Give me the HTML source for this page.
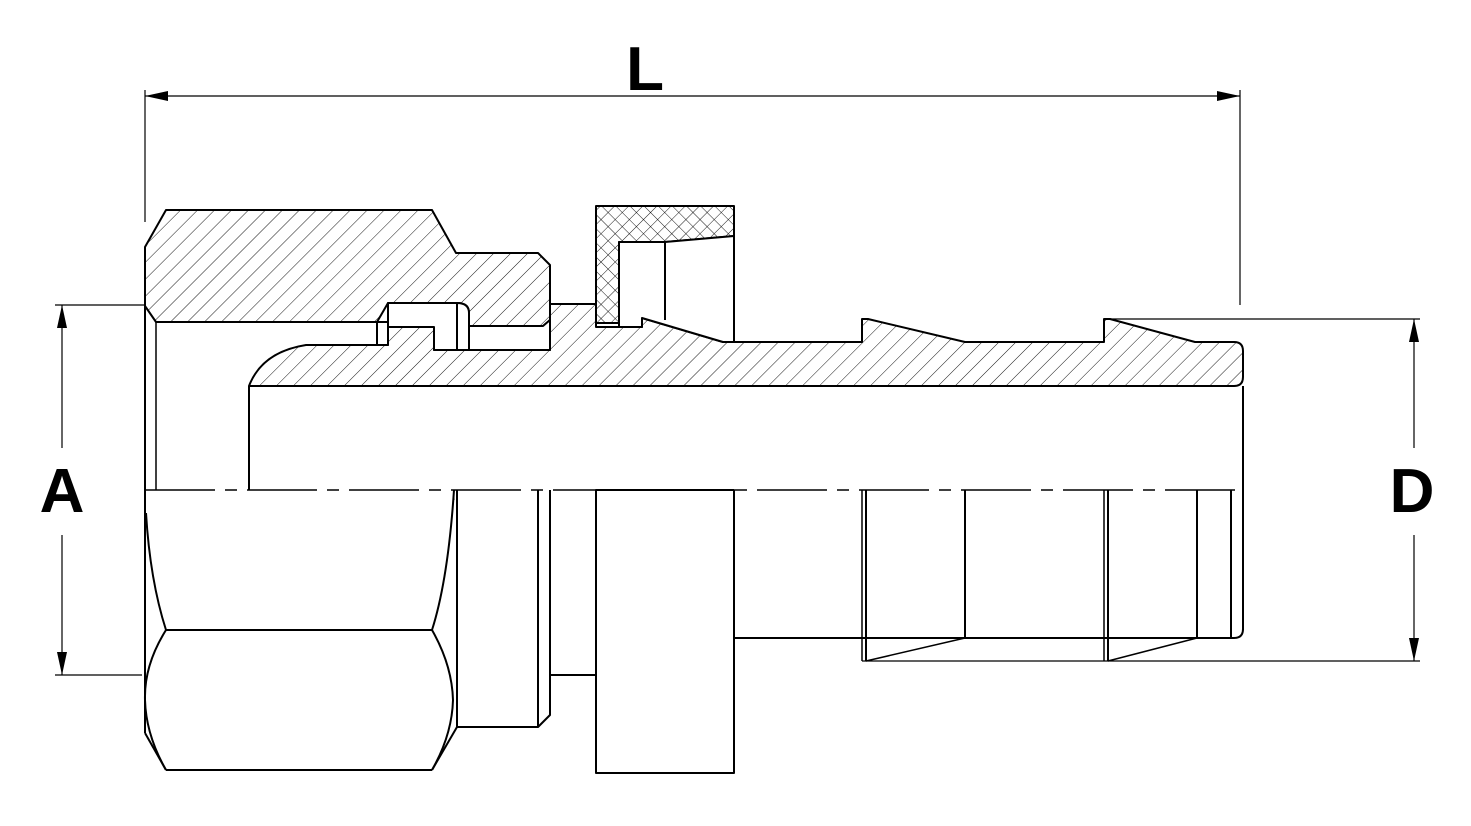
<!DOCTYPE html>
<html><head><meta charset="utf-8"><style>html,body{margin:0;padding:0;background:#fff}svg{display:block}</style></head>
<body>
<svg width="1471" height="826" viewBox="0 0 1471 826" xmlns="http://www.w3.org/2000/svg">
<defs>
<pattern id="h" patternUnits="userSpaceOnUse" width="12" height="12" patternTransform="rotate(45)">
<line x1="0" y1="0" x2="0" y2="12" stroke="#000" stroke-width="0.9"/>
</pattern>
<pattern id="x" patternUnits="userSpaceOnUse" width="10" height="10" patternTransform="rotate(45)">
<line x1="0" y1="0" x2="0" y2="10" stroke="#000" stroke-width="0.9"/>
<line x1="0" y1="0" x2="10" y2="0" stroke="#000" stroke-width="0.9"/>
</pattern>
</defs>
<g fill="none" stroke="#000" stroke-width="2" stroke-linejoin="round">
<!-- nut section -->
<path fill="url(#h)" d="M145,247 L166,210 L432,210 L456,253 L538,253 L550,265 L550,320 L543,326 L469,326 L469,313 Q469,303 457,303 L388,303 L377,322 L156,322 L145,306 Z"/>
<!-- sleeve/tube section -->
<path fill="url(#h)" d="M249,386 Q262,352 306,345 L377,345 L377,322 L388,322 L388,345 L388,327 L434,327 L434,350 L550,350 L550,304 L596,304 L596,327 L642,327 L642,318 L723,342 L862,342 L862,319 L868,319 L965,342 L1104,342 L1104,319 L1110,319 L1195,342 L1234,342 Q1243,342 1243,351 L1243,377 Q1243,386 1234,386 Z"/>
<!-- white L groove -->
<path fill="#fff" d="M388,303 L457,303 L457,350 L434,350 L434,327 L388,327 Z"/>
<path fill="#fff" d="M457,303 Q469,303 469,313 L469,350 L457,350 Z"/>
<path fill="#fff" d="M469,326 L543,326 L550,320 L550,350 L469,350 Z"/>
<path fill="#fff" d="M377,322 L388,322 L388,345 L377,345 Z"/>
<!-- ring cross-hatched -->
<path fill="url(#x)" d="M596,206 L734,206 L734,236 L665,242 L619,242 L619,323 L596,323 Z"/>
<path fill="#fff" d="M619,242 L665,242 L734,236 L734,342 L723,342 L642,318 L642,327 L619,327 Z"/>
<line x1="665" y1="242" x2="665" y2="320"/>
<line x1="596" y1="323" x2="619" y2="323"/>
<!-- tube bore -->
<line x1="249" y1="386" x2="249" y2="490"/>
<line x1="1243" y1="386" x2="1243" y2="630"/>
<line x1="145" y1="306" x2="145" y2="733"/>
<line x1="156" y1="322" x2="156" y2="490" stroke-width="1.5"/>
<!-- lower hex -->
<path d="M166,630 L432,630"/>
<path d="M166,770 L432,770"/>
<path d="M146,513 Q150,580 166,630"/>
<path d="M454,490 Q448,580 432,630"/>
<path d="M166,630 Q144,665 145,700 Q146,735 166,770"/>
<path d="M432,630 Q452,665 453,700 Q452,735 432,770"/>
<path d="M145,733 L166,770"/>
<path d="M457,727 L432,770"/>
<line x1="457" y1="490" x2="457" y2="727"/>
<line x1="454" y1="490" x2="454" y2="500" stroke-width="1"/>
<path d="M457,727 L538,727 L550,715 L550,490"/>
<line x1="538" y1="490" x2="538" y2="727"/>
<line x1="550" y1="675" x2="596" y2="675"/>
<rect x="596" y="490" width="138" height="283"/>
<line x1="734" y1="638" x2="1234" y2="638"/>
<path d="M1234,638 Q1243,638 1243,629"/>
<!-- barbs lower -->
<line x1="862" y1="490" x2="862" y2="661" stroke-width="1.5"/>
<line x1="866" y1="490" x2="866" y2="661"/>
<line x1="965" y1="490" x2="965" y2="638"/>
<line x1="866" y1="661" x2="965" y2="638" stroke-width="1.5"/>
<line x1="1104" y1="490" x2="1104" y2="661" stroke-width="1.5"/>
<line x1="1108" y1="490" x2="1108" y2="661"/>
<line x1="1197" y1="490" x2="1197" y2="638"/>
<line x1="1108" y1="661" x2="1197" y2="638" stroke-width="1.5"/>
<line x1="1231" y1="490" x2="1231" y2="638"/>
</g>
<!-- centerline -->
<line x1="145" y1="490" x2="1243" y2="490" stroke="#000" stroke-width="1.5" stroke-dasharray="70 10 12 10"/>
<!-- dimensions -->
<g stroke="#000" stroke-width="1.2" fill="none">
<line x1="145" y1="90" x2="145" y2="222"/>
<line x1="1240" y1="90" x2="1240" y2="305"/>
<line x1="145" y1="96" x2="1240" y2="96"/>
<line x1="55" y1="305" x2="145" y2="305"/>
<line x1="55" y1="675" x2="142" y2="675"/>
<line x1="62" y1="305" x2="62" y2="448"/>
<line x1="62" y1="535" x2="62" y2="675"/>
<line x1="1104" y1="319" x2="1420" y2="319"/>
<line x1="862" y1="661" x2="1420" y2="661"/>
<line x1="1414" y1="319" x2="1414" y2="448"/>
<line x1="1414" y1="535" x2="1414" y2="661"/>
</g>
<g fill="#000">
<polygon points="145,96 168,91 168,101"/>
<polygon points="1240,96 1217,91 1217,101"/>
<polygon points="62,305 57,328 67,328"/>
<polygon points="62,675 57,652 67,652"/>
<polygon points="1414,319 1409,342 1419,342"/>
<polygon points="1414,661 1409,638 1419,638"/>
</g>
<g font-family="Liberation Sans, sans-serif" font-weight="bold" font-size="62" text-anchor="middle" fill="#000">
<text x="645" y="90">L</text>
<text x="62" y="512">A</text>
<text x="1412" y="512">D</text>
</g>
</svg>
</body></html>
